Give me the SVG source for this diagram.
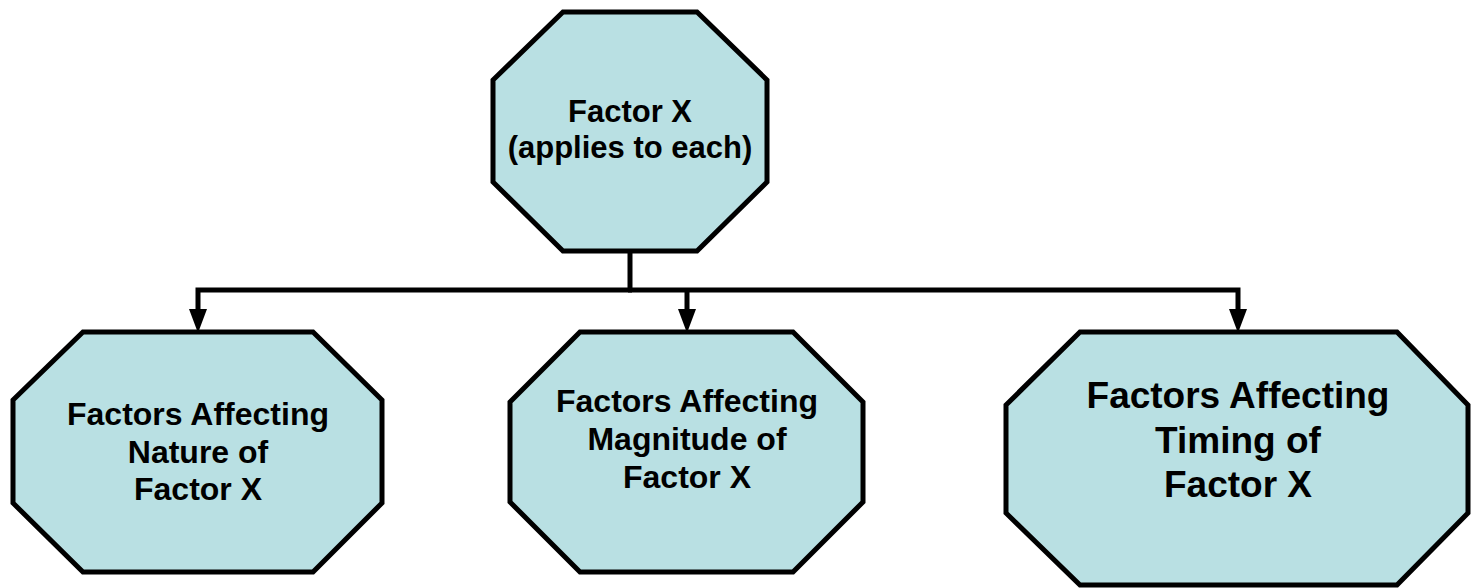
<svg xmlns="http://www.w3.org/2000/svg" width="1472" height="588" viewBox="0 0 1472 588">
  <style>
    .oct { fill: #B9E0E3; stroke: #000; stroke-width: 5; stroke-linejoin: miter; }
    .lbl { font-family: "Liberation Sans", Arial, sans-serif; font-weight: bold; fill: #000; text-anchor: middle; }
    .wire { fill: none; stroke: #000; stroke-width: 5; stroke-linejoin: miter; }
  </style>
  <defs>
    <marker id="arrow" markerUnits="userSpaceOnUse" markerWidth="26" markerHeight="20" refX="0" refY="10" orient="auto" viewBox="0 0 26 20">
      <path d="M0,1 L24,10 L0,19 Z" fill="#000"/>
    </marker>
  </defs>
  <rect width="1472" height="588" fill="#fff"/>

  <g id="connectors">
    <path class="wire" d="M630,251 V290"/>
    <path class="wire" d="M632,290 H198 V309" marker-end="url(#arrow)"/>
    <path class="wire" d="M628,290 H1238 V309" marker-end="url(#arrow)"/>
    <path class="wire" d="M687,290 V309" marker-end="url(#arrow)"/>
  </g>

  <g id="factor-x">
    <polygon class="oct" points="563,12 697,12 767,80 767,182 697,251 563,251 493,182 493,80"/>
    <text class="lbl" font-size="31" x="630" y="122">Factor X</text>
    <text class="lbl" font-size="31" x="630" y="158">(applies to each)</text>
  </g>

  <g id="nature">
    <polygon class="oct" points="83,332 313,332 382,400 382,503 313,572 83,572 13,503 13,400"/>
    <text class="lbl" font-size="32" x="198" y="425">Factors Affecting</text>
    <text class="lbl" font-size="32" x="198" y="463">Nature of</text>
    <text class="lbl" font-size="32" x="198" y="500">Factor X</text>
  </g>

  <g id="magnitude">
    <polygon class="oct" points="580,332 793,332 863,402 863,502 793,572 580,572 510,502 510,402"/>
    <text class="lbl" font-size="32" x="687" y="412">Factors Affecting</text>
    <text class="lbl" font-size="32" x="687" y="450">Magnitude of</text>
    <text class="lbl" font-size="32" x="687" y="488">Factor X</text>
  </g>

  <g id="timing">
    <polygon class="oct" points="1080,332 1397,332 1468,405 1468,513 1397,585 1080,585 1006,513 1006,405"/>
    <text class="lbl" font-size="37" x="1238" y="408">Factors Affecting</text>
    <text class="lbl" font-size="37" x="1238" y="453">Timing of</text>
    <text class="lbl" font-size="37" x="1238" y="497">Factor X</text>
  </g>
</svg>
